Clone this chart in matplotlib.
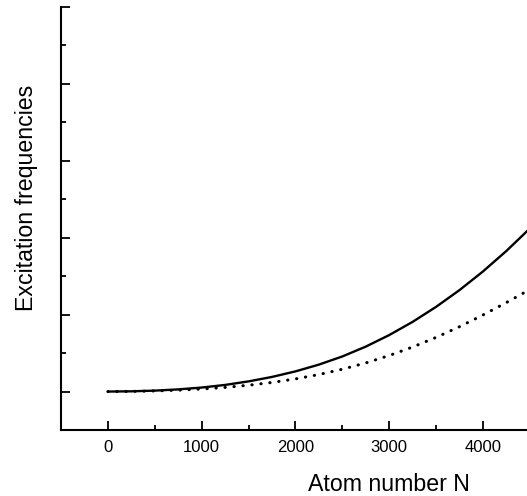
import matplotlib
matplotlib.use("Agg")
import matplotlib.pyplot as plt
from matplotlib.ticker import MultipleLocator, NullFormatter

plt.rcParams['font.family'] = ['Liberation Sans', 'DejaVu Sans']

# atom number N and the two excitation frequency branches (arbitrary units)
atom_n = [0, 250, 500, 750, 1000, 1250, 1500, 1750, 2000, 2250, 2500,
          2750, 3000, 3250, 3500, 3750, 4000, 4250, 4500]
freq_solid = [1.000, 1.003, 1.012, 1.028, 1.052, 1.086, 1.132, 1.190, 1.262,
              1.350, 1.456, 1.584, 1.734, 1.906, 2.101, 2.319, 2.561, 2.828,
              3.120]
freq_dotted = [1.000, 1.002, 1.008, 1.018, 1.033, 1.054, 1.082, 1.118, 1.164,
               1.221, 1.290, 1.372, 1.468, 1.579, 1.704, 1.843, 1.995, 2.157,
               2.327]
x_ticks = [0, 1000, 2000, 3000, 4000]

fig = plt.figure(figsize=(5.27, 4.96), dpi=100)
ax = fig.add_axes([61 / 527, 1 - 430 / 496, 466 / 527, 423 / 496])

ax.plot(atom_n, freq_solid, color='black', lw=1.7, solid_capstyle='butt',
        solid_joinstyle='round')
ax.plot(atom_n, freq_dotted, color='black', lw=2.2,
        linestyle=(0, (0.1, 2.85)), dash_capstyle='round')

ax.set_xlim(-500, 4470)
ax.set_ylim(0.5, 6)

for s in ['top', 'right']:
    ax.spines[s].set_visible(False)
for s in ['left', 'bottom']:
    ax.spines[s].set_linewidth(1.5)

ax.set_xticks(x_ticks)
ax.xaxis.set_minor_locator(MultipleLocator(500))
ax.yaxis.set_major_locator(MultipleLocator(1))
ax.yaxis.set_minor_locator(MultipleLocator(0.5))
ax.yaxis.set_major_formatter(NullFormatter())

ax.tick_params(which='major', direction='in', length=6.5, width=1.3,
               labelsize=12, pad=7)
ax.tick_params(which='minor', direction='in', length=3.6, width=1.3)

ax.set_xlabel('Atom number N', fontsize=16.7)
ax.xaxis.set_label_coords(0.703, -0.101)
ax.set_ylabel('Excitation frequencies', fontsize=16.7)
ax.yaxis.set_label_coords(-0.050, 0.548)

fig.savefig('out.png', dpi=100)
